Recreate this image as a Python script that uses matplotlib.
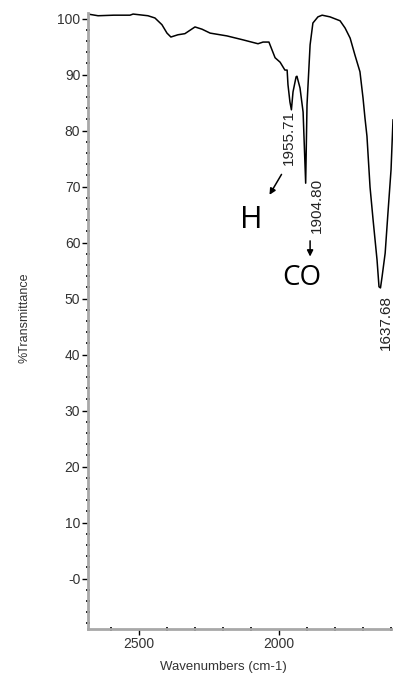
import matplotlib.pyplot as plt
from matplotlib.ticker import MultipleLocator, FuncFormatter

# IR spectrum (wavenumber cm-1, %T)
wavenumber = [2682, 2646, 2590, 2532, 2521, 2468, 2443, 2418, 2400, 2386,
              2361, 2336, 2300, 2275, 2246, 2186, 2129, 2075, 2057, 2036,
              2025, 2014, 1996, 1979, 1971, 1968, 1961, 1955.71, 1950, 1939,
              1936, 1925, 1914, 1904.80, 1900, 1889, 1879, 1861, 1846, 1818,
              1782, 1764, 1746, 1729, 1711, 1700, 1693, 1686, 1675, 1664,
              1650, 1643, 1637.68, 1632, 1621, 1611, 1600, 1593]
transmittance = [100.8, 100.5, 100.6, 100.6, 100.8, 100.5, 100.1, 98.9, 97.4, 96.7,
                 97.1, 97.3, 98.5, 98.1, 97.4, 96.9, 96.2, 95.5, 95.8, 95.8,
                 94.4, 93.0, 92.2, 90.8, 90.8, 88.2, 85.1, 83.7, 86.9, 89.6,
                 89.7, 87.6, 83.3, 70.6, 84.6, 95.3, 99.2, 100.3, 100.6, 100.3,
                 99.6, 98.3, 96.5, 93.5, 90.5, 85.8, 82.2, 79.0, 69.9, 64.0,
                 56.9, 52.1, 51.9, 53.9, 58.1, 65.3, 73.0, 81.9]

peak_labels = ["1955.71", "1904.80", "1637.68"]

fig = plt.figure(figsize=(3.93, 6.74), dpi=100)
ax = fig.add_axes([0.2239, 0.0668, 0.7761, 0.914])

ax.plot(wavenumber, transmittance, color="black", lw=1.1)

ax.set_xlim(2682, 1593)
ax.set_ylim(-9, 101)

for side in ["top", "right"]:
    ax.spines[side].set_visible(False)
for side in ["left", "bottom"]:
    ax.spines[side].set_color("#a8a8a8")
    ax.spines[side].set_linewidth(2)

ax.xaxis.set_major_locator(MultipleLocator(500))
ax.xaxis.set_minor_locator(MultipleLocator(100))
ax.yaxis.set_major_locator(MultipleLocator(10))
ax.yaxis.set_minor_locator(MultipleLocator(2))
ax.yaxis.set_major_formatter(FuncFormatter(lambda v, p: "-0" if v == 0 else "%d" % v))

ax.tick_params(which="major", length=4, width=1, color="black", labelsize=10,
               labelcolor="#333333", pad=1.5)
ax.tick_params(which="minor", length=2.5, width=1.2, color="black", direction="inout")

for lab in ax.get_xticklabels() + ax.get_yticklabels():
    lab.set_family("Liberation Sans")

ax.set_xlabel("Wavenumbers (cm-1)", family="Liberation Sans", fontsize=9.5, color="#333333",
              va="center")
ax.xaxis.set_label_coords(0.443, -0.062)
ax.set_ylabel("%Transmittance", family="Liberation Sans", fontsize=9, color="#333333",
              va="center")
ax.yaxis.set_label_coords(-0.207, 0.505)

# peak labels
label_pos = [(1964, 83.7), (1864, 71.5), (1620, 50.6)]
for text, (tx, ty) in zip(peak_labels, label_pos):
    ax.text(tx, ty, text, rotation=90, ha="center", va="top", fontsize=11,
            family="Liberation Sans", color="#222222", clip_on=False)

# assignments
ax.annotate("", xy=(2039, 68.1), xytext=(1986, 72.6),
            arrowprops=dict(arrowstyle="-|>", color="black", lw=1.1, mutation_scale=9))
ax.annotate("", xy=(1889, 57.0), xytext=(1889, 60.8),
            arrowprops=dict(arrowstyle="-|>", color="black", lw=1.1, mutation_scale=9))
ax.text(2100, 64.0, "H", ha="center", va="center", fontsize=22, family="Open Sans")
ax.text(1918, 53.7, "CO", ha="center", va="center", fontsize=20, family="Open Sans")

plt.savefig("out.png", dpi=100)
plt.close(fig)
